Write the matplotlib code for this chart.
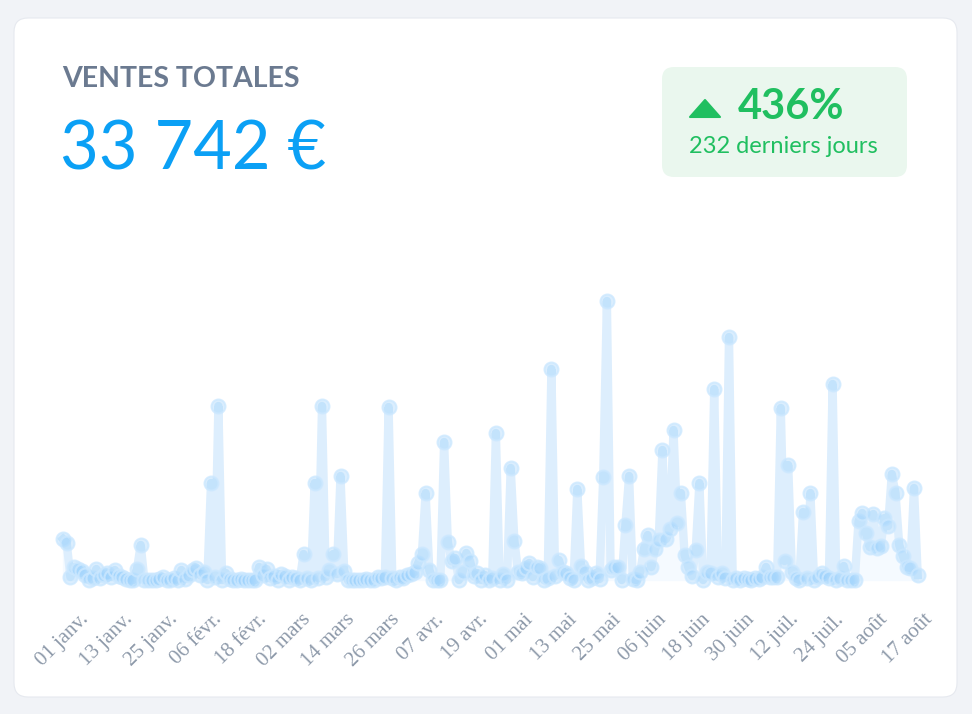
import matplotlib
matplotlib.use("Agg")
import matplotlib.pyplot as plt
import matplotlib.transforms as mtransforms
from matplotlib.patches import FancyBboxPatch, Polygon
import numpy as np

# -------------------------
# donnees
# -------------------------

titre = "VENTES TOTALES"
total = "33 742 €"
evolution = "436%"
periode = "232 derniers jours"

# ventes journalieres, du 01 janv. au 20 août (232 jours)
ventes = [
    41, 37, 3, 13, 11, 9, 5, 0, 2, 11, 2, 5, 7, 3, 10, 4, 3, 1, 0, 0,
    11, 35, 0, 0, 0, 0, 1, 3, 0, 0, 2, 0, 10, 1, 5, 10, 12, 5, 8, 0,
    97, 3, 174, 0, 7, 1, 0, 0, 1, 0, 0, 0, 0, 13, 5, 11, 2, 4, 0, 6,
    4, 0, 3, 2, 0, 26, 2, 0, 97, 2, 174, 3, 10, 26, 6, 104, 9, 0, 0, 0,
    0, 0, 1, 0, 0, 3, 2, 3, 173, 2, 0, 3, 2, 5, 6, 8, 17, 26, 87, 10,
    0, 0, 0, 138, 38, 19, 22, 0, 8, 27, 19, 4, 7, 0, 5, 0, 2, 147, 0, 6,
    0, 112, 39, 8, 7, 12, 17, 3, 13, 12, 0, 2, 211, 4, 20, 8, 7, 2, 0, 91,
    14, 8, 0, 2, 7, 1, 103, 279, 10, 13, 13, 0, 55, 104, 1, 0, 8, 31, 45, 13,
    31, 40, 130, 41, 51, 150, 57, 87, 25, 13, 4, 30, 97, 0, 8, 7, 191, 3, 7, 2,
    243, 0, 2, 0, 2, 1, 0, 2, 1, 3, 13, 3, 3, 3, 172, 19, 115, 8, 2, 0,
    68, 2, 87, 0, 3, 7, 4, 2, 196, 0, 2, 14, 0, 0, 0, 59, 67, 47, 33, 66,
    32, 34, 62, 54, 106, 87, 35, 24, 13, 12, 92, 5,
]

etiquettes = ['01 janv.', '13 janv.', '25 janv.', '06 févr.', '18 févr.',
              '02 mars', '14 mars', '26 mars', '07 avr.', '19 avr.',
              '01 mai', '13 mai', '25 mai', '06 juin', '18 juin',
              '30 juin', '12 juil.', '24 juil.', '05 août', '17 août']
pas_etiquettes = 12  # une etiquette tous les 12 jours

# -------------------------
# figure
# -------------------------

W, H = 972, 714
fond = '#f1f3f7'
fig = plt.figure(figsize=(W / 100, H / 100), dpi=100, facecolor=fond)


def px(x, y):
    """coordonnees pixel (origine en haut a gauche) -> fraction de figure"""
    return x / W, 1 - y / H


# carte blanche (sous les axes)
carte = FancyBboxPatch((14, H - 697), 943, 679,
                       boxstyle="round,pad=0,rounding_size=14",
                       transform=mtransforms.IdentityTransform(),
                       facecolor='white', edgecolor='#e6e9ef', linewidth=0.8,
                       zorder=-10)
fig.add_artist(carte)

# en-tete
fig.text(*px(62, 87), titre, fontsize=20.5, fontweight='bold',
         color='#6b7a90', family='Lato', va='baseline')
fig.text(*px(60, 170), total, fontsize=48, color='#0ba0f5',
         family='Lato', va='baseline')

# encart vert
encart = FancyBboxPatch((662, H - 177), 245, 110,
                        boxstyle="round,pad=0,rounding_size=12",
                        transform=mtransforms.IdentityTransform(),
                        facecolor='#eaf7ee', edgecolor='none', zorder=-5)
fig.add_artist(encart)
vert = '#20bf60'
tri = Polygon([(690, H - 117), (720, H - 117), (705, H - 100)], closed=True,
              transform=mtransforms.IdentityTransform(), facecolor=vert,
              edgecolor=vert, linewidth=1.5, joinstyle='round')
fig.add_artist(tri)
fig.text(*px(738, 119), evolution, fontsize=30, fontweight='bold',
         color=vert, family='Lato', va='baseline')
fig.text(*px(689, 153), periode, fontsize=17, color=vert,
         family='Lato', va='baseline')

# -------------------------
# graphique
# -------------------------

n = len(ventes)
jours = np.arange(n)
x0, x1 = 63, 63 + (n - 1) * 3.70
y_base, y_haut = 580, 301
ax = fig.add_axes([x0 / W, 1 - y_base / H, (x1 - x0) / W, (y_base - y_haut) / H])
ax.set_zorder(5)
ax.patch.set_visible(False)
ax.set_xlim(0, n - 1)
ax.set_ylim(0, max(ventes))
ax.axis('off')

ax.fill_between(jours, ventes, 0, color='#f5faff', zorder=1, clip_on=False)
ax.plot(jours, ventes, color='#ddeefd', linewidth=6, solid_joinstyle='round',
        zorder=2, clip_on=False)
ax.plot(jours, ventes, linestyle='none', marker='o', markersize=10,
        markerfacecolor=(0.56, 0.80, 0.99, 0.32), markeredgecolor=(0.80, 0.91, 1.0, 0.8),
        markeredgewidth=1.5, zorder=3, clip_on=False)

# etiquettes de l'axe x (inclinees)
decalage = mtransforms.ScaledTranslation(23 / 100, 0, fig.dpi_scale_trans)
trans = mtransforms.blended_transform_factory(ax.transData, fig.transFigure) + decalage
for i, lab in enumerate(etiquettes):
    ax.text(i * pas_etiquettes, 1 - 617 / H, lab, transform=trans,
            rotation=45, rotation_mode='anchor', ha='right', va='center',
            fontsize=15, color='#8e9aaa', family='Liberation Serif',
            clip_on=False)

fig.savefig('out.png', dpi=100, facecolor=fond)
